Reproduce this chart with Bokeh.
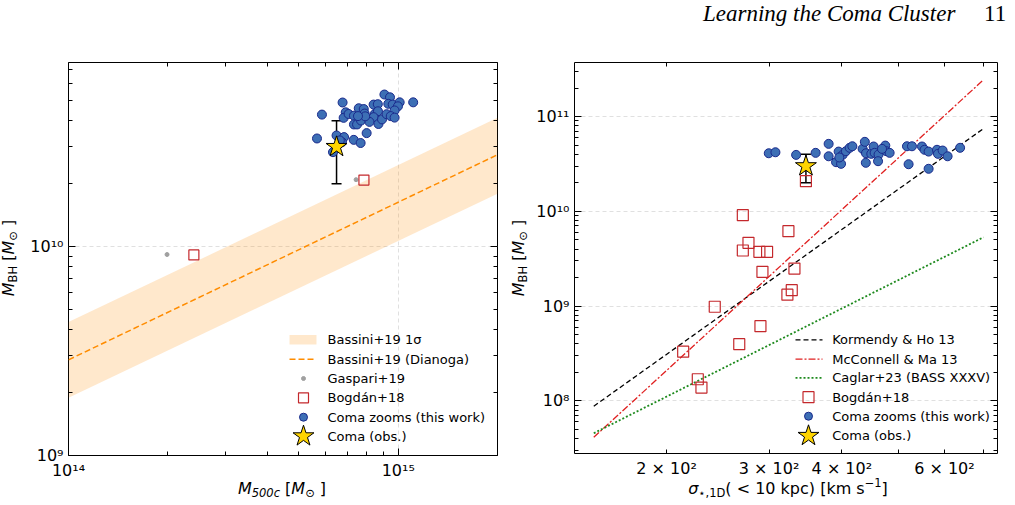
import numpy as np
from bokeh.plotting import figure
from bokeh.models import (Range1d, LogAxis, FixedTicker, CustomJSTickFormatter,
                          Label, Whisker, TeeHead, ColumnDataSource, Div)
from bokeh.layouts import row, column
from bokeh.embed import file_html
from bokeh.resources import INLINE

# ---------------- data: M_BH vs M_500c ----------------
bassini_m500 = [1e14, 2e15]
bassini_mbh = [2.87e9, 2.75e10]          # Dianoga relation
bassini_lo = [1.89e9, 1.79e10]           # 1 sigma band
bassini_hi = [4.35e9, 4.13e10]

gaspari_m500 = [1.99e14, 7.45e14]
gaspari_mbh = [9.16e9, 2.09e10]

bogdan_m500 = [2.40e14, 7.87e14]
bogdan_mbh_m = [9.12e9, 2.08e10]

zoom_m500 = np.array([5.87, 5.67, 6.78, 6.93, 6.83, 7.07, 7.34, 7.59, 7.86, 7.91,
                      7.80, 7.34, 7.50, 7.71, 8.02, 7.33, 7.69, 6.50, 6.85, 6.75,
                      6.34, 8.42, 8.67, 8.49, 8.68, 8.42, 8.18, 8.71, 8.93, 9.08,
                      9.44, 9.33, 9.62, 10.1, 9.98, 9.75, 9.22, 9.49, 9.75, 11.1,
                      7.94, 6.65, 7.55]) * 1e14
zoom_mbh_m = np.array([4.28, 3.29, 4.89, 4.39, 4.13, 4.31, 4.23, 4.59, 4.55, 4.33,
                       4.11, 3.84, 3.84, 4.01, 3.49, 3.24, 3.13, 3.40, 3.34, 3.16,
                       2.83, 4.78, 4.80, 4.31, 4.44, 4.16, 3.95, 3.86, 4.06, 5.34,
                       5.18, 4.82, 4.78, 4.90, 4.69, 4.48, 4.30, 4.21, 4.14, 4.90,
                       4.20, 3.22, 4.21]) * 1e10

coma_m500 = [6.5e14]
coma_sigma = [347.0]
coma_mbh = [3.0e10]
coma_mbh_lo = [2.0e10]
coma_mbh_hi = [4.0e10]

# ---------------- data: M_BH vs sigma ----------------
fit_sigma = [150, 700]
kormendy_mbh = [8.77e7, 7.46e10]
mcconnell_mbh = [4.12e7, 2.44e11]
caglar_mbh = [4.55e7, 5.32e9]

bogdan_sigma = [270.4, 323.8, 276.5, 270.4, 288.7, 297.6, 347.0, 292.2, 331.6,
                328.1, 322.5, 242.0, 289.9, 266.6, 213.6, 226.3, 229.6]
bogdan_mbh_s = [9.10e9, 6.17e9, 4.65e9, 3.86e9, 3.74e9, 3.74e9, 2.08e10, 2.30e9,
                2.49e9, 1.47e9, 1.32e9, 9.84e8, 6.14e8, 3.96e8, 3.30e8, 1.69e8, 1.38e8]

zoom_sigma = [299.6, 307.6, 333.8, 360.6, 379.6, 379.6, 394.9, 401.2, 390.9, 398.7,
              406.4, 412.5, 416.9, 434.2, 438.0, 440.0, 439.7, 449.3, 453.5, 455.3,
              462.4, 461.5, 474.9, 476.9, 483.1, 517.4, 527.7, 520.7, 549.0, 554.6,
              563.6, 563.6, 582.6, 584.8, 595.7, 607.5, 638.3, 396.0, 468.8]
zoom_mbh_s = np.array([4.10, 4.20, 3.94, 4.14, 5.15, 3.81, 4.27, 3.94, 3.30, 3.17,
                       4.31, 4.68, 4.86, 4.56, 5.41, 4.10, 3.25, 4.04, 4.83, 4.14,
                       3.97, 3.38, 4.94, 4.31, 4.14, 4.86, 4.86, 3.14, 4.83, 4.46,
                       4.27, 2.81, 4.46, 4.04, 4.38, 3.81, 4.68, 3.70, 4.56]) * 1e10

sigma_ticks = [200, 300, 400, 600]
sigma_tick_labels = ["2 × 10²", "3 × 10²", "4 × 10²", "6 × 10²"]

# ---------------- styles ----------------
ORANGE = "#ff8c00"
BOG = "#c4282c"
ZFILL = "#3d6fb5"
ZLINE = "#1a2a8c"
STAR = "#ffd400"
FONT = "DejaVu Sans"
DASH_KH = "5 3"
DASH_MM = "7 2 2 2"
DASH_CA = "2 2"
TICK_PX = "16px"

SUP = CustomJSTickFormatter(code="""
const s = {"0":"⁰","1":"¹","2":"²","3":"³","4":"⁴","5":"⁵","6":"⁶","7":"⁷","8":"⁸","9":"⁹","-":"⁻"};
const e = Math.round(Math.log10(tick));
return "10" + String(e).split("").map(c => s[c]).join("");
""")
BLANK = CustomJSTickFormatter(code="return '';")


def put(p, x, y, text, size=13):
    p.add_layout(Label(x=x, y=y, x_units="screen", y_units="screen", text=text,
                       text_font=FONT, text_font_size=f"{size}px",
                       text_align="left", text_baseline="middle", text_color="black"))


def tick_style(ax, mj, mn, labels=True):
    ax.major_tick_in = mj
    ax.major_tick_out = 0
    ax.minor_tick_in = mn
    ax.minor_tick_out = 0
    ax.axis_line_color = None
    ax.major_tick_line_color = "black"
    ax.minor_tick_line_color = "black"
    ax.major_label_standoff = 5 if labels else 0
    ax.major_label_text_font = FONT
    ax.major_label_text_font_size = TICK_PX if labels else "0px"
    ax.major_label_text_color = "black"


def make_fig(xr, yr, fw, fh, bl, br, bt, bb, xt, yt, xfmt, xlen, ylen):
    p = figure(x_axis_type="log", y_axis_type="log",
               x_range=Range1d(*xr), y_range=Range1d(*yr),
               frame_width=fw, frame_height=fh,
               min_border_left=bl, min_border_right=br,
               min_border_top=bt, min_border_bottom=bb,
               toolbar_location=None, output_backend="svg")
    p.outline_line_color = "black"
    p.outline_line_width = 1
    p.outline_line_alpha = 1
    p.xaxis.ticker = xt
    p.yaxis.ticker = yt
    p.xgrid.ticker = xt
    p.ygrid.ticker = yt
    p.xaxis.formatter = xfmt
    p.yaxis.formatter = SUP
    tick_style(p.xaxis[0], *xlen)
    tick_style(p.yaxis[0], *ylen)
    top = LogAxis(ticker=xt, formatter=BLANK)
    right = LogAxis(ticker=yt, formatter=BLANK)
    tick_style(top, *xlen, labels=False)
    tick_style(right, *ylen, labels=False)
    p.add_layout(top, "above")
    p.add_layout(right, "right")
    p.grid.grid_line_color = "#d8d8d8"
    p.grid.grid_line_dash = "4 3"
    p.grid.grid_line_width = 0.8
    return p


def log_at(rng, frac):
    a, b = np.log10(rng.start), np.log10(rng.end)
    return 10 ** (a + frac * (b - a))


# ---------------- HTML label helpers ----------------
def sub(t):
    return f'<span style="font-size:11.5px;position:relative;top:3px;">{t}</span>'


def sup(t):
    return f'<span style="font-size:11.5px;position:relative;top:-7px;">{t}</span>'


def span(x, y, html, size=16, font=FONT, rotate=False, anchor="center", extra=""):
    if rotate:
        tr = "translate(-50%,-50%) rotate(-90deg)"
    elif anchor == "center":
        tr = "translateX(-50%)"
    else:
        tr = "none"
    return (f'<span style="position:absolute;left:{x}px;top:{y}px;transform:{tr};'
            f'white-space:nowrap;font-family:\'{font}\';font-size:{size}px;line-height:1;'
            f'color:black;{extra}">{html}</span>')


def box(w, h, inner):
    return Div(text=f'<div style="position:relative;width:{w}px;height:{h}px;">{inner}</div>',
               width=w, height=h, margin=(0, 0, 0, 0), styles={"overflow": "visible"})


MBH_LABEL = f"<i>M</i>{sub('BH')} [<i>M</i>{sub('⊙')} ]"
M500_LABEL = f"<i>M</i>{sub('<i>500c</i>')} [<i>M</i>{sub('⊙')} ]"
SIGMA_LABEL = f"<i>σ</i>{sub('⋆,1D')}( &lt; 10 kpc) [km s{sup('−1')}]"

HEADER_H, XLAB_H, YLAB_W = 30, 24, 24

# ================= left panel =================
FW1, FH1 = 429, 393
xt1 = FixedTicker(ticks=[1e14, 1e15], minor_ticks=[k * 1e14 for k in range(2, 10)] + [2e15])
yt1 = FixedTicker(ticks=[1e9, 1e10],
                  minor_ticks=[k * 1e9 for k in range(2, 10)] + [k * 1e10 for k in range(2, 8)])
p1 = make_fig((1e14, 2e15), (1e9, 7.6e10), FW1, FH1, 68 - YLAB_W, 8, 62 - HEADER_H,
              505 - XLAB_H - 62 - FH1, xt1, yt1, SUP, (7, 4), (7, 4))

p1.varea(x=bassini_m500, y1=bassini_lo, y2=bassini_hi, fill_color=ORANGE, fill_alpha=0.2)
p1.line(bassini_m500, bassini_mbh, line_color=ORANGE, line_dash="6 3", line_width=1.5)
p1.scatter(gaspari_m500, gaspari_mbh, size=4, color="#a0a0a0")
p1.scatter(bogdan_m500, bogdan_mbh_m, marker="square", size=10, fill_color=None,
           line_color=BOG, line_width=1.2)
p1.scatter(zoom_m500, zoom_mbh_m, size=9, fill_color=ZFILL, line_color=ZLINE, line_width=1)
src1 = ColumnDataSource(dict(x=coma_m500, lo=coma_mbh_lo, hi=coma_mbh_hi))
p1.add_layout(Whisker(source=src1, base="x", lower="lo", upper="hi", dimension="height",
                      line_color="black", line_width=1.5,
                      upper_head=TeeHead(size=10, line_color="black", line_width=1.5),
                      lower_head=TeeHead(size=10, line_color="black", line_width=1.5)))
p1.scatter(coma_m500, coma_mbh, marker="star", size=22, fill_color=STAR, line_color="black",
           line_width=1)

# legend
lx1 = lambda px: log_at(p1.x_range, px / FW1)
ly1 = lambda py: log_at(p1.y_range, py / FH1)
rows1 = [115.7, 96.3, 77.0, 57.7, 38.3, 19.3]
p1.quad(left=[lx1(221)], right=[lx1(248)], bottom=[ly1(rows1[0] - 4.7)], top=[ly1(rows1[0] + 4.7)],
        fill_color=ORANGE, fill_alpha=0.2, line_color=None)
p1.line([lx1(221), lx1(248)], [ly1(rows1[1])] * 2, line_color=ORANGE, line_dash="6 3", line_width=1.5)
p1.scatter([lx1(235)], [ly1(rows1[2])], size=4, color="#a0a0a0")
p1.scatter([lx1(235)], [ly1(rows1[3])], marker="square", size=10, fill_color=None,
           line_color=BOG, line_width=1.2)
p1.scatter([lx1(235)], [ly1(rows1[4])], size=8, fill_color=ZFILL, line_color=ZLINE)
p1.scatter([lx1(235)], [ly1(rows1[5])], marker="star", size=22, fill_color=STAR, line_color="black")
for r, t in zip(rows1, ["Bassini+19 1σ", "Bassini+19 (Dianoga)", "Gaspari+19", "Bogdán+18",
                        "Coma zooms (this work)", "Coma (obs.)"]):
    put(p1, 259, r, t, 13)

# ================= right panel =================
FW2, FH2 = 423, 391
xt2 = FixedTicker(ticks=sigma_ticks, minor_ticks=[500, 700])
yt2 = FixedTicker(ticks=[1e8, 1e9, 1e10, 1e11],
                  minor_ticks=[k * 10.0 ** e for e in range(7, 12) for k in range(2, 10)
                               if 2.78e7 < k * 10.0 ** e < 3.72e11])
xfmt2 = CustomJSTickFormatter(args=dict(t=sigma_ticks, l=sigma_tick_labels), code="""
const i = t.indexOf(Math.round(tick));
return i >= 0 ? l[i] : "";
""")
p2 = make_fig((139, 740), (2.78e7, 3.72e11), FW2, FH2, 574 - 505 - YLAB_W, 18, 62 - HEADER_H,
              505 - XLAB_H - 62 - FH2, xt2, yt2, xfmt2, (4, 4), (7, 4))
p2.xgrid.visible = False

p2.line(fit_sigma, kormendy_mbh, line_color="black", line_dash=DASH_KH, line_width=1.3)
p2.line(fit_sigma, mcconnell_mbh, line_color="#e02020", line_dash=DASH_MM, line_width=1.3)
p2.line(fit_sigma, caglar_mbh, line_color="#1e8a1e", line_dash=DASH_CA, line_width=1.8)
p2.scatter(bogdan_sigma, bogdan_mbh_s, marker="square", size=11, fill_color=None,
           line_color=BOG, line_width=1.2)
p2.scatter(zoom_sigma, zoom_mbh_s, size=9, fill_color=ZFILL, line_color=ZLINE, line_width=1)
src2 = ColumnDataSource(dict(x=coma_sigma, lo=coma_mbh_lo, hi=coma_mbh_hi))
p2.add_layout(Whisker(source=src2, base="x", lower="lo", upper="hi", dimension="height",
                      line_color="black", line_width=1.5,
                      upper_head=TeeHead(size=10, line_color="black", line_width=1.5),
                      lower_head=TeeHead(size=10, line_color="black", line_width=1.5)))
p2.scatter(coma_sigma, coma_mbh, marker="star", size=22, fill_color=STAR, line_color="black",
           line_width=1)

lx2 = lambda px: log_at(p2.x_range, px / FW2)
ly2 = lambda py: log_at(p2.y_range, py / FH2)
rows2 = [113.7, 94.3, 75.7, 56.3, 37.3, 17.7]
p2.line([lx2(221), lx2(248)], [ly2(rows2[0])] * 2, line_color="black", line_dash=DASH_KH,
        line_width=1.3)
p2.line([lx2(221), lx2(248)], [ly2(rows2[1])] * 2, line_color="#e02020", line_dash=DASH_MM,
        line_width=1.3)
p2.line([lx2(221), lx2(248)], [ly2(rows2[2])] * 2, line_color="#1e8a1e", line_dash=DASH_CA,
        line_width=1.8)
p2.scatter([lx2(234)], [ly2(rows2[3])], marker="square", size=11, fill_color=None,
           line_color=BOG, line_width=1.2)
p2.scatter([lx2(234)], [ly2(rows2[4])], size=8, fill_color=ZFILL, line_color=ZLINE)
p2.scatter([lx2(234)], [ly2(rows2[5])], marker="star", size=22, fill_color=STAR, line_color="black")
for r, t in zip(rows2, ["Kormendy & Ho 13", "McConnell & Ma 13", "Caglar+23 (BASS XXXV)",
                        "Bogdán+18", "Coma zooms (this work)", "Coma (obs.)"]):
    put(p2, 257.7, r, t, 13)

# ================= page furniture: header and axis titles =================
fig_h = 505 - HEADER_H - XLAB_H
header = box(1015, HEADER_H,
             span(703, 2, "Learning the Coma Cluster", 23, "Liberation Serif", anchor="left",
                  extra="font-style:italic;")
             + span(984, 2, "11", 23, "Liberation Serif", anchor="left"))
ylab1 = box(YLAB_W, fig_h, span(8.5, 257.5 - HEADER_H, MBH_LABEL, rotate=True))
ylab2 = box(YLAB_W, fig_h, span(13.5, 257.5 - HEADER_H, MBH_LABEL, rotate=True))
xlab1 = box(505, XLAB_H, span(282, -1.5, M500_LABEL))
xlab2 = box(510, XLAB_H, span(788 - 505, -1.5, SIGMA_LABEL))

layout = column(header, row(ylab1, p1, ylab2, p2), row(xlab1, xlab2))
open("out.html", "w").write(file_html(layout, INLINE))
